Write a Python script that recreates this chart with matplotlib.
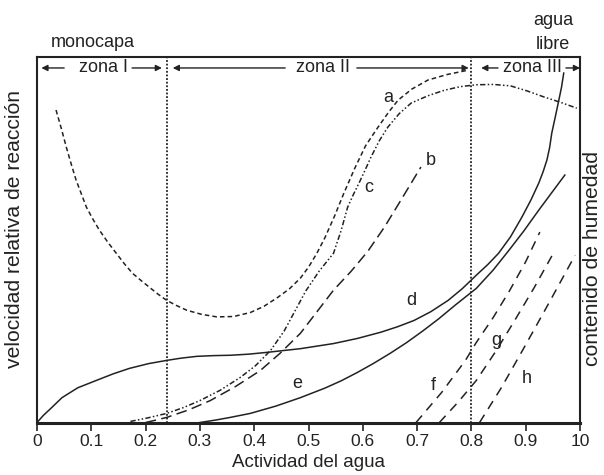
import matplotlib
matplotlib.use('Agg')
import matplotlib.pyplot as plt

plt.rcParams['font.family'] = ['Liberation Sans', 'DejaVu Sans']

# curve data (x = actividad del agua, y = relative height 0..1)
a_x = [0.035, 0.045, 0.054, 0.063, 0.072, 0.082, 0.091, 0.103, 0.115, 0.130, 0.146, 0.161,
       0.176, 0.192, 0.207, 0.223, 0.239, 0.257, 0.276, 0.303, 0.331, 0.362, 0.393, 0.418,
       0.443, 0.465, 0.485, 0.500, 0.515, 0.530, 0.548, 0.565, 0.585, 0.605, 0.628, 0.648,
       0.665, 0.690, 0.720, 0.755, 0.794]
a_y = [0.855, 0.803, 0.753, 0.707, 0.663, 0.624, 0.589, 0.556, 0.526, 0.494, 0.463, 0.434,
       0.408, 0.388, 0.370, 0.351, 0.334, 0.320, 0.307, 0.296, 0.289, 0.290, 0.301, 0.318,
       0.342, 0.366, 0.395, 0.425, 0.462, 0.505, 0.565, 0.627, 0.695, 0.757, 0.808, 0.850,
       0.882, 0.912, 0.937, 0.952, 0.964]

b_x = [0.200, 0.220, 0.239, 0.280, 0.319, 0.365, 0.411, 0.448, 0.485, 0.515, 0.546, 0.578,
       0.609, 0.640, 0.670, 0.707]
b_y = [0.000, 0.007, 0.014, 0.035, 0.060, 0.098, 0.142, 0.190, 0.244, 0.302, 0.362, 0.413,
       0.468, 0.535, 0.608, 0.699]

c_x = [0.172, 0.205, 0.239, 0.270, 0.300, 0.337, 0.374, 0.402, 0.430, 0.455, 0.475, 0.495,
       0.520, 0.546, 0.560, 0.572, 0.583, 0.593, 0.604, 0.615, 0.630, 0.646, 0.667, 0.689,
       0.720, 0.750, 0.780, 0.809, 0.840, 0.872, 0.903, 0.933, 0.964, 0.994]
c_y = [0.003, 0.013, 0.025, 0.041, 0.060, 0.088, 0.123, 0.155, 0.197, 0.250, 0.305, 0.360,
       0.415, 0.463, 0.525, 0.589, 0.625, 0.655, 0.690, 0.726, 0.770, 0.808, 0.845, 0.874,
       0.894, 0.909, 0.919, 0.924, 0.925, 0.921, 0.907, 0.891, 0.876, 0.860]

d_x = [0.000, 0.012, 0.025, 0.046, 0.075, 0.109, 0.140, 0.170, 0.205, 0.239, 0.265, 0.294,
       0.325, 0.356, 0.390, 0.424, 0.485, 0.546, 0.590, 0.633, 0.664, 0.694, 0.725, 0.757,
       0.783, 0.809, 0.830, 0.850, 0.872, 0.893, 0.910, 0.924, 0.932, 0.939, 0.944, 0.948,
       0.955, 0.961, 0.966, 0.970]
d_y = [0.000, 0.020, 0.038, 0.068, 0.095, 0.115, 0.133, 0.148, 0.161, 0.170, 0.176, 0.181,
       0.183, 0.184, 0.187, 0.192, 0.202, 0.216, 0.230, 0.247, 0.262, 0.279, 0.303, 0.334,
       0.366, 0.403, 0.432, 0.463, 0.508, 0.562, 0.610, 0.655, 0.686, 0.718, 0.752, 0.792,
       0.840, 0.882, 0.918, 0.956]

e_x = [0.300, 0.330, 0.356, 0.393, 0.440, 0.485, 0.530, 0.560, 0.590, 0.620, 0.650, 0.680,
       0.710, 0.740, 0.770, 0.809, 0.840, 0.869, 0.897, 0.924, 0.948, 0.972]
e_y = [0.000, 0.007, 0.014, 0.025, 0.045, 0.068, 0.094, 0.114, 0.137, 0.162, 0.189, 0.218,
       0.250, 0.284, 0.321, 0.367, 0.417, 0.471, 0.525, 0.581, 0.629, 0.677]

f_x = [0.698, 0.745, 0.789, 0.809, 0.840, 0.870, 0.900, 0.926]
f_y = [0.000, 0.082, 0.170, 0.219, 0.287, 0.360, 0.440, 0.521]

g_x = [0.741, 0.775, 0.809, 0.845, 0.880, 0.916, 0.952]
g_y = [0.000, 0.055, 0.115, 0.195, 0.280, 0.370, 0.466]

h_x = [0.815, 0.855, 0.894, 0.942, 0.991]
h_y = [0.000, 0.095, 0.197, 0.325, 0.458]

zone_limits = [0.24, 0.80]
tick_pos = [0, 0.1, 0.2, 0.3, 0.4, 0.5, 0.6, 0.7, 0.8, 0.9, 1.0]
tick_labels = ['0', '0.1', '0.2', '0.3', '0.4', '0.5', '0.6', '0.7', '0.8', '0.9', '10']

curve_labels = ['a', 'b', 'c', 'd', 'e', 'f', 'g', 'h']
label_x = [0.646, 0.726, 0.611, 0.689, 0.480, 0.730, 0.846, 0.902]
label_y = [0.890, 0.718, 0.644, 0.334, 0.107, 0.101, 0.225, 0.121]

ink = '#222222'

fig = plt.figure(figsize=(6.04, 4.75), dpi=100)
ax = fig.add_axes([0.0613, 0.1105, 0.8990, 0.7695])

ax.plot(a_x, a_y, color=ink, lw=1.1, linestyle=(0, (3, 2)))
ax.plot(b_x, b_y, color=ink, lw=1.1, linestyle=(0, (7, 3.5)))
ax.plot(c_x, c_y, color=ink, lw=1.1, linestyle=(0, (3.5, 1.5, 1, 1.5, 1, 1.5)))
ax.plot(d_x, d_y, color=ink, lw=1.1)
ax.plot(e_x, e_y, color=ink, lw=1.1)
for xs, ys in [(f_x, f_y), (g_x, g_y), (h_x, h_y)]:
    ax.plot(xs, ys, color=ink, lw=1.1, linestyle=(0, (6, 4.5)))

for xv in zone_limits:
    ax.axvline(xv, color=ink, lw=1.3, linestyle=(0, (1, 1)))

for lab, lx, ly in zip(curve_labels, label_x, label_y):
    ax.text(lx, ly, lab, fontsize=13, color=ink, ha='center', va='center')

# zone arrows
arrow_y = 0.97
arr = dict(arrowstyle='-|>', color=ink, lw=1.0, mutation_scale=9, shrinkA=0, shrinkB=0)
zones = [('zona I', 0.122, (0.050, 0.008), (0.175, 0.230)),
         ('zona II', 0.527, (0.457, 0.250), (0.589, 0.795)),
         ('zona III', 0.912, (0.849, 0.818), (0.974, 1.0))]
for name, cx, left, right in zones:
    ax.text(cx, arrow_y, name, fontsize=13, color=ink, ha='center', va='center')
    ax.annotate('', xy=(left[1], arrow_y), xytext=(left[0], arrow_y), arrowprops=arr)
    ax.annotate('', xy=(right[1], arrow_y), xytext=(right[0], arrow_y), arrowprops=arr)

ax.text(0.103, 1.04, 'monocapa', fontsize=13, color=ink, ha='center', va='center',
        clip_on=False)
ax.text(0.95, 1.10, 'agua', fontsize=13, color=ink, ha='center', va='center', clip_on=False)
ax.text(0.95, 1.033, 'libre', fontsize=13, color=ink, ha='center', va='center', clip_on=False)

ax.set_xlim(0, 1)
ax.set_ylim(0, 1)
ax.set_xticks(tick_pos)
ax.set_xticklabels(tick_labels, fontsize=12.5, color=ink)
ax.set_yticks([])
ax.tick_params(axis='x', direction='out', length=6, width=1.2, color=ink, pad=2)
ax.set_xlabel('Actividad del agua', fontsize=13.5, color=ink, labelpad=4)

# side labels, placed where they sit in the reference
fig.text(15 / 604, 1 - 229 / 475, 'velocidad relativa de reacción', fontsize=15.2,
         color=ink, rotation=90, ha='center', va='center')
fig.text(592 / 604, 1 - 258 / 475, 'contenido de humedad', fontsize=15.2,
         color=ink, rotation=90, ha='center', va='center')

for spine in ax.spines.values():
    spine.set_linewidth(1.5)
    spine.set_color(ink)
ax.spines['bottom'].set_linewidth(2.2)

fig.savefig('out.png', dpi=100)
